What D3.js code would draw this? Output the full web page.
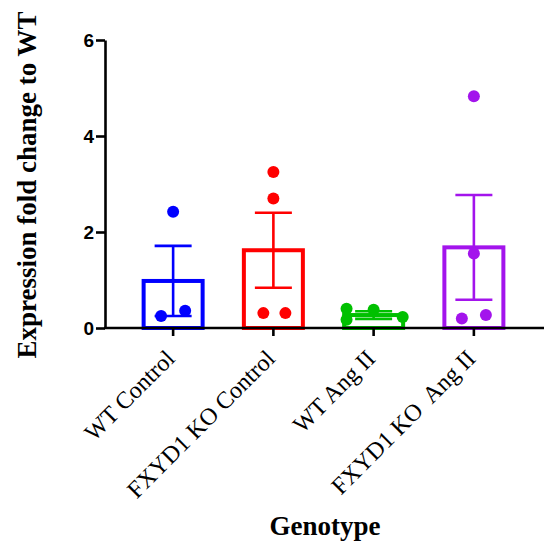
<!DOCTYPE html>
<html>
<head>
<meta charset="utf-8">
<script src="https://cdn.jsdelivr.net/npm/d3@7"></script>
<style>
  html, body { margin: 0; padding: 0; background: #fff; }
  svg { display: block; }
</style>
</head>
<body>
<svg id="chart" width="544" height="544"></svg>
<script>
// ---- data ----
const categories = ["WT Control", "FXYD1 KO Control", "WT Ang II", "FXYD1 KO  Ang II"];
const colors = ["#0000ff", "#ff0000", "#00c000", "#a314ec"];
const means = [0.98, 1.62, 0.27, 1.68];
const sems = [0.73, 0.78, 0.08, 1.09];
const pointsWTControl = [2.42, 0.25, 0.36];
const pointsKOControl = [3.25, 2.70, 0.31, 0.31];
const pointsWTAngII = [0.40, 0.17, 0.38, 0.23];
const pointsKOAngII = [4.83, 1.55, 0.20, 0.27];
const jitterWTControl = [0, -0.12, 0.12];
const jitterKOControl = [0, 0, -0.10, 0.12];
const jitterWTAngII = [-0.27, -0.27, 0, 0.29];
const jitterKOAngII = [0, 0, -0.12, 0.12];
const yTicks = [0, 2, 4, 6];
const yTitle = "Expression fold change to WT";
const xTitle = "Genotype";

const points = [pointsWTControl, pointsKOControl, pointsWTAngII, pointsKOAngII];
const jitters = [jitterWTControl, jitterKOControl, jitterWTAngII, jitterKOAngII];

// ---- layout ----
const svg = d3.select("#chart");
const y = d3.scaleLinear().domain([0, 6]).range([328, 40]);
const x = d3.scaleBand().domain(categories).range([123, 524]).paddingInner(0.37).paddingOuter(0.185);
const step = x.step();
const cx = c => x(c) + x.bandwidth() / 2;
const barW = 59, capW = 37;

// bars
const g = svg.append("g");
categories.forEach((c, i) => {
  g.append("rect")
    .attr("x", cx(c) - barW / 2)
    .attr("y", y(means[i]))
    .attr("width", barW)
    .attr("height", y(0) - y(means[i]))
    .attr("fill", "none")
    .attr("stroke", colors[i])
    .attr("stroke-width", 4);
});

// error bars
categories.forEach((c, i) => {
  const top = y(means[i] + sems[i]), bot = y(Math.max(0, means[i] - sems[i]));
  const eg = g.append("g").attr("stroke", colors[i]).attr("stroke-width", 2.6);
  eg.append("line").attr("x1", cx(c)).attr("x2", cx(c)).attr("y1", top).attr("y2", bot);
  eg.append("line").attr("x1", cx(c) - capW / 2).attr("x2", cx(c) + capW / 2).attr("y1", top).attr("y2", top);
  eg.append("line").attr("x1", cx(c) - capW / 2).attr("x2", cx(c) + capW / 2).attr("y1", bot).attr("y2", bot);
});

// points
categories.forEach((c, i) => {
  g.selectAll(null).data(points[i]).enter().append("circle")
    .attr("cx", (d, j) => cx(c) + jitters[i][j] * step)
    .attr("cy", d => y(d))
    .attr("r", 6)
    .attr("fill", colors[i]);
});

// y axis
const yAxis = d3.axisLeft(y).tickValues(yTicks).tickSize(9).tickSizeOuter(0).tickFormat(d3.format("d"));
const ya = svg.append("g").attr("transform", "translate(105,0)").call(yAxis);
ya.select(".domain").attr("stroke", "#000").attr("stroke-width", 2.6);
ya.selectAll(".tick line").attr("stroke", "#000").attr("stroke-width", 2.6);
ya.selectAll(".tick text")
  .attr("x", -11)
  .attr("dy", "0.36em")
  .attr("font-family", "Liberation Sans, Arial, sans-serif")
  .attr("font-weight", "bold")
  .attr("font-size", 19)
  .attr("fill", "#000");

// x axis
const xAxis = d3.axisBottom(x).tickSize(8).tickSizeOuter(0).tickFormat("");
const xa = svg.append("g").attr("transform", "translate(0,328)").call(xAxis);
xa.select(".domain").remove();
xa.selectAll(".tick line").attr("stroke", "#000").attr("stroke-width", 2.6);
svg.append("line").attr("x1", 104).attr("x2", 544).attr("y1", 328).attr("y2", 328)
  .attr("stroke", "#000").attr("stroke-width", 2.6);

// x tick labels
categories.forEach(c => {
  svg.append("text")
    .attr("transform", `translate(${cx(c) + 3},${360}) rotate(-45)`)
    .attr("text-anchor", "end")
    .attr("font-family", "Liberation Serif, Times New Roman, serif")
    .attr("font-size", 24)
    .attr("fill", "#000")
    .attr("xml:space", "preserve")
    .style("white-space", "pre")
    .text(c);
});

// titles
svg.append("text")
  .attr("transform", "translate(36,185) rotate(-90)")
  .attr("text-anchor", "middle")
  .attr("font-family", "Liberation Serif, Times New Roman, serif")
  .attr("font-weight", "bold")
  .attr("font-size", 27)
  .attr("fill", "#000")
  .text(yTitle);

svg.append("text")
  .attr("x", 325).attr("y", 535)
  .attr("text-anchor", "middle")
  .attr("font-family", "Liberation Serif, Times New Roman, serif")
  .attr("font-weight", "bold")
  .attr("font-size", 27)
  .attr("fill", "#000")
  .text(xTitle);
</script>
</body>
</html>
